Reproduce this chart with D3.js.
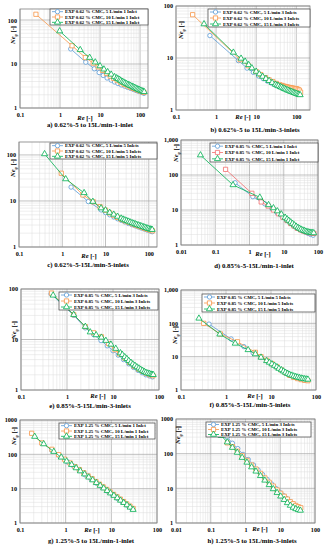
<!DOCTYPE html>
<html>
<head>
<meta charset="utf-8">
<script src="https://cdn.jsdelivr.net/npm/d3@7"></script>
<style>
  body { margin: 0; background: #fff; }
  svg { display: block; }
  text { font-family: "Liberation Serif", "DejaVu Serif", serif; font-weight: bold; fill: #000; }
</style>
</head>
<body>
<svg id="fig" width="325" height="550"></svg>
<script>
// ---- data: [Re, Ne_g] ----
// a) 0.62 % CMC, 1 inlet
const a5  = [[1.85,22],[4.4,11],[7.2,7.8],[9.5,6.4],[12,5.5],[15,4.8],[19,4.3],[23,3.9],[28,3.6],[34,3.35],[41,3.15],[49,2.95],[58,2.8],[68,2.65],[80,2.5],[93,2.38],[108,2.27],[125,2.15]];
const a10 = [[0.25,135],[2,26],[4.3,14],[6.8,10.5],[9,8.6],[11.5,7.2],[14.5,6.1],[18,5.3],[22,4.7],[27,4.2],[33,3.8],[40,3.45],[48,3.2],[57,2.98],[67,2.8],[79,2.63],[92,2.5],[107,2.38],[125,2.27]];
const a15 = [[0.98,56],[3.2,21],[5.5,14],[7.6,11],[10,9],[12.5,7.6],[15.5,6.6],[19,5.8],[23,5.1],[26,4.8],[28,4.6],[31,4.4],[33,4.2],[36,4.0],[39,3.85],[42,3.7],[46,3.55],[50,3.42],[54,3.3],[58,3.2],[63,3.1],[68,3.0],[73,2.9],[78,2.82],[84,2.73],[90,2.65],[97,2.58],[104,2.51],[111,2.45],[119,2.39],[127,2.33]];
// b) 0.62 % CMC, 3 inlets
const b5  = [[0.7,27],[3.6,8.9],[5.9,6.4],[8.5,5.3],[11.5,4.5],[15,4.0],[19,3.6],[24,3.3],[30,3.05],[37,2.85],[45,2.7],[54,2.6],[64,2.55],[75,2.5],[88,2.45],[102,2.4],[118,2.3]];
const b10 = [[0.26,68],[4,9.3],[6.4,7.1],[10,5.5],[13,4.8],[17,4.2],[21,3.8],[26,3.5],[32,3.25],[39,3.05],[43,2.97],[47,2.9],[51,2.85],[56,2.8],[61,2.76],[66,2.72],[71,2.69],[77,2.65],[83,2.62],[90,2.6],[97,2.57],[104,2.55],[112,2.48],[120,2.4],[128,2.2]];
const b15 = [[0.5,45],[2.7,12.8],[4.2,9.8],[5.3,8.6],[6.5,7.4],[7.8,6.4],[10,5.5],[12,4.9],[14.5,4.4],[17.5,4.0],[21,3.65],[25,3.35],[30,3.1],[33,3.0],[36,2.9],[40,2.8],[43,2.72],[47,2.64],[51,2.56],[55,2.49],[60,2.42],[65,2.36],[70,2.3],[76,2.25],[82,2.2],[88,2.15],[95,2.1],[102,2.06],[110,2.02],[117,1.98],[125,1.95]];
// c) 0.62 % CMC, 5 inlets
const c5  = [[1.6,20],[4.0,9.7],[7.9,6.4],[10,5.6],[12.5,5.0],[15.5,4.5],[19,4.1],[23,3.8],[28,3.5],[34,3.25],[41,3.05],[49,2.88],[58,2.72],[68,2.58],[80,2.45],[93,2.33],[108,2.22],[120,2.15]];
const c10 = [[0.95,40],[3.0,13.5],[5.2,9.6],[7.5,7.5],[10,6.3],[12.5,5.5],[15.5,4.9],[19,4.4],[23,4.0],[28,3.7],[34,3.45],[41,3.2],[49,3.0],[58,2.85],[68,2.7],[80,2.55],[93,2.42],[108,2.32],[122,2.25]];
const c15 = [[0.39,105],[1.2,30],[3.2,15],[5.1,9.7],[7.9,7],[10,6.3],[12.5,5.6],[15.5,5.1],[19,4.6],[23,4.2],[25.5,4.0],[28,3.85],[31,3.72],[34,3.6],[37,3.47],[41,3.35],[45,3.25],[49,3.15],[53,3.06],[58,2.98],[63,2.9],[68,2.82],[74,2.75],[80,2.68],[86,2.61],[93,2.55],[100,2.49],[108,2.44],[114,2.41],[120,2.38]];
// d) 0.85 % CMC, 1 inlet
const d5  = [[0.38,60],[1.25,24],[2.8,15],[4.5,11],[6.5,8.2],[9,6.5],[12,5.2],[16,4.2],[21,3.5],[27,3.0],[34,2.6],[42,2.35],[51,2.15],[61,2.0],[72,1.9]];
const d10 = [[0.2,145],[1.17,30],[2.2,17],[3.5,13],[5,10],[7,7.8],[9.5,6.2],[12.5,5.0],[16,4.1],[20,3.5],[25,3.0],[31,2.7],[38,2.5],[46,2.35],[55,2.25],[65,2.2],[76,2.15]];
const d15 = [[0.037,370],[0.33,52],[2.0,23],[3.6,14],[5,11.4],[6.5,9.3],[8.5,7.6],[11,6.1],[12.5,5.5],[14,5.0],[16,4.5],[18,4.1],[20.5,3.7],[23,3.4],[26,3.15],[29,2.95],[32,2.8],[36,2.65],[40,2.55],[44,2.45],[48,2.38],[53,2.32],[58,2.28],[63,2.25],[69,2.22],[75,2.2]];
// e) 0.85 % CMC, 3 inlets
const e5  = [[0.45,80],[1.4,30],[2.5,17],[3.8,12.5],[5.5,9.5],[7.5,7.5],[10,6.0],[13,4.9],[17,4.0],[22,3.3],[28,2.8],[35,2.45],[43,2.2],[52,2.0],[62,1.9],[72,1.82]];
const e10 = [[0.46,83],[1.4,31],[2.5,18],[3.8,13.6],[5.6,11.3],[8,8.3],[11,6.3],[14,5.2],[18,4.3],[23,3.5],[29,2.95],[36,2.6],[44,2.35],[53,2.15],[63,2.0],[74,1.92]];
const e15 = [[0.5,75],[1.4,31],[2.5,18],[3.2,14],[4.3,12.3],[5.6,11],[7,9.5],[9,8.0],[11.5,6.6],[14.5,5.4],[16,5.0],[18,4.5],[20,4.15],[22,3.8],[24.5,3.5],[27,3.25],[30,3.05],[33,2.85],[36.5,2.7],[40,2.55],[44,2.42],[48,2.3],[52,2.22],[57,2.15],[62,2.1],[67,2.05],[71,2.02],[75,2.0]];
// f) 0.85 % CMC, 5 inlets
const f5  = [[0.42,95],[1.3,34],[2.5,20],[4,13],[6,9.5],[8,7.5],[10.5,6.0],[13.5,4.8],[17,3.9],[21,3.2],[26,2.75],[32,2.45],[39,2.25],[47,2.1],[56,2.0],[66,1.95]];
const f10 = [[0.32,100],[0.75,48],[1.8,28],[4.5,13.5],[6,10],[8,7.8],[10.5,6.2],[13.5,5.0],[17,4.0],[21,3.3],[26,2.75],[32,2.4],[39,2.2],[47,2.05],[56,1.95],[66,1.9]];
const f15 = [[0.25,141],[0.73,47],[1.6,25],[3.1,16],[4.5,12],[6,9.5],[8,7.5],[9.2,6.7],[10.5,6.0],[12,5.4],[13.5,4.9],[15,4.4],[17,4.0],[19,3.65],[21,3.35],[23.5,3.1],[26,2.9],[29,2.75],[32,2.6],[35.5,2.5],[39,2.4],[43,2.32],[47,2.25],[51,2.2],[56,2.15],[61,2.11],[66,2.08]];
// g) 1.25 % CMC, 1 inlet
const g5  = [[0.5,130],[0.75,88],[1.1,60],[1.5,45],[2,34],[2.7,25],[3.6,19],[4.8,14.3],[6.3,11],[8.2,8.5],[10.6,6.6],[13.6,5.2],[17.4,4.1],[22,3.3],[27.5,2.7]];
const g10 = [[0.18,410],[0.3,215],[0.5,140],[0.7,98],[0.95,72],[1.25,56],[1.6,44],[2.0,36],[2.5,29],[3.1,23.5],[3.8,19.5],[4.6,16],[5.5,13.5],[6.6,11.3],[7.9,9.5],[9.4,8.0],[11.2,6.8],[13.3,5.8],[15.7,4.95],[18.5,4.2],[21.7,3.6],[25.5,3.1],[30,2.65]];
const g15 = [[0.21,330],[0.33,200],[0.55,120],[0.8,82],[1.05,63],[1.35,50],[1.7,40],[2.1,32.5],[2.6,26.5],[3.2,21.5],[3.9,17.8],[4.7,14.8],[5.7,12.3],[6.8,10.3],[8.1,8.7],[9.6,7.4],[11.4,6.3],[13.5,5.35],[15.9,4.55],[18.7,3.9],[22,3.35],[25.8,2.85],[30,2.45]];
// h) 1.25 % CMC, 3 inlets
const h5  = [[0.2,440],[0.3,300],[0.42,200],[0.6,140],[0.85,95],[1.2,68],[1.7,47],[2.3,34],[3.1,25],[4.2,18],[5.6,13.4],[7.4,10],[9.5,7.8],[12,6.3],[15,5.1],[18.5,4.2],[22.5,3.6],[27,3.15],[32,2.85],[38,2.7]];
const h10 = [[0.3,205],[0.42,160],[0.58,118],[0.8,88],[1.1,64],[1.5,47],[2.0,36],[2.7,27],[3.6,20],[4.8,15],[6.3,11.6],[8.1,9.0],[10.3,7.2],[13,5.9],[16,4.9],[19.5,4.1],[23.5,3.6],[28,3.2],[33,2.95],[39,2.75]];
const h15 = [[0.2,330],[0.3,215],[0.42,150],[0.58,108],[0.8,77],[1.1,56],[1.5,41],[2.0,31],[2.7,23],[3.6,17],[4.8,12.6],[6.3,9.6],[8.1,7.5],[10.3,5.9],[13,4.7],[16,3.8],[19.5,3.2],[23.5,2.8],[28,2.55],[33,2.4],[38,2.3]];

const captions = [
  "a)  0.62%-5 to 15L/min-1-inlet", "b)  0.62%-5 to 15L/min-3-inlets",
  "c)  0.62%-5-15L/min-5-inlets", "d)  0.85%-5-15L/min-1-inlet",
  "e)  0.85%-5-15L/min-3-inlets", "f)  0.85%-5-15L/min-5-inlets",
  "g)  1.25%-5 to 15L/min-1-inlet", "h)  1.25%-5 to 15L/min-3-inlets"
];
const cmc = ["0.62", "0.62", "0.62", "0.85", "0.85", "0.85", "1.25", "1.25"];
const inletText = ["1 Inlet", "3 Inlets", "5 Inlets", "1 Inlet", "3 Inlets", "5 Inlets", "1 Inlet", "3 Inlets"];
const flows = ["5", "10", "15"];

const xTicks1 = [0.1, 1, 10, 100];
const xTicks2 = [0.01, 0.1, 1, 10, 100];
const yTicks2 = [1, 10, 100];
const yTicks3 = [1, 10, 100, 1000];

const BLUE = "#5B9BD5", ORANGE = "#F79646", GREEN = "#00B050", RED = "#F26D6D";

// layout per panel (pixels)
const panels = [
  {l:20,  t:9,   r:148, b:108, xd:[0.1,158],  yd:[1,178],  xt:xTicks1, yt:yTicks2, data:[a5,a10,a15], cap:[90,127],  ylab:[15,35],   rel:[85,120],  leg:[50,9,98,16]},
  {l:176, t:6,   r:310, b:110, xd:[0.1,220],  yd:[1,100],  xt:xTicks1, yt:yTicks2, data:[b5,b10,b15], cap:[255,132], ylab:[183,30],  rel:[243,119], leg:[208,9,102,18]},
  {l:19,  t:142, r:157, b:247, xd:[0.1,155],  yd:[1,191],  xt:xTicks1, yt:yTicks2, data:[c5,c10,c15], cap:[88,267],  ylab:[15,168],  rel:[89,258],  leg:[50,143,107,16]},
  {l:181, t:140, r:318, b:245, xd:[0.01,100], yd:[1,1000], xt:xTicks2, yt:yTicks3, data:[d5,d10,d15], cap:[254,268], ylab:[178,153], rel:[263,256], leg:[210,143,108,19], comma:true, red:true},
  {l:21,  t:289, r:159, b:390, xd:[0.1,100],  yd:[1,100],  xt:xTicks1, yt:yTicks2, data:[e5,e10,e15], cap:[90,408],  ylab:[16,330],  rel:[98,398],  leg:[59,292,99,18]},
  {l:181, t:290, r:316, b:390, xd:[0.1,100],  yd:[1,1000], xt:xTicks1, yt:yTicks3, data:[f5,f10,f15], cap:[250,407], ylab:[177,335], rel:[255,398], leg:[202,294,113,18], comma:true},
  {l:20,  t:420, r:157, b:523, xd:[0.1,100],  yd:[1,1000], xt:xTicks1, yt:yTicks3, data:[g5,g10,g15], cap:[91,543],  ylab:[16,436],  rel:[92,532],  leg:[59,423,96,16]},
  {l:176, t:419, r:315, b:523, xd:[0.01,100], yd:[1,1000], xt:xTicks2, yt:yTicks3, data:[h5,h10,h15], cap:[252,543], ylab:[180,435], rel:[260,531], leg:[206,422,105,15]}
];

const svg = d3.select("#fig");
const symbols = [d3.symbolCircle, d3.symbolSquare, d3.symbolTriangle];
const symSize = [15, 18, 16];

function minorTicks(dom) {
  const out = [];
  for (let e = -3; e <= 3; e++) {
    for (let k = 1; k <= 9; k++) {
      const v = k * Math.pow(10, e);
      if (v >= dom[0] * 0.999 && v <= dom[1] * 1.001) out.push(+v.toPrecision(3));
    }
  }
  return out;
}

panels.forEach((p, i) => {
  const x = d3.scaleLog().domain(p.xd).range([p.l, p.r]);
  const y = d3.scaleLog().domain(p.yd).range([p.b, p.t]);
  const cols = [BLUE, p.red ? RED : ORANGE, GREEN];
  const g = svg.append("g");

  const clipId = "clip" + i;
  svg.append("clipPath").attr("id", clipId)
    .append("rect").attr("x", p.l).attr("y", p.t).attr("width", p.r - p.l).attr("height", p.b - p.t);

  // grid
  const mx = minorTicks(p.xd), my = minorTicks(p.yd);
  g.append("g").selectAll("line").data(mx).join("line")
    .attr("x1", d => x(d)).attr("x2", d => x(d)).attr("y1", p.t).attr("y2", p.b)
    .attr("stroke", d => p.xt.includes(d) ? "#a6a6a6" : "#dcdcdc")
    .attr("stroke-width", d => p.xt.includes(d) ? 0.7 : 0.5);
  g.append("g").selectAll("line").data(my).join("line")
    .attr("y1", d => y(d)).attr("y2", d => y(d)).attr("x1", p.l).attr("x2", p.r)
    .attr("stroke", d => p.yt.includes(d) ? "#a6a6a6" : "#dcdcdc")
    .attr("stroke-width", d => p.yt.includes(d) ? 0.7 : 0.5);

  g.append("rect").attr("x", p.l).attr("y", p.t).attr("width", p.r - p.l).attr("height", p.b - p.t)
    .attr("fill", "none").attr("stroke", "#7f7f7f").attr("stroke-width", 0.8);

  // axes
  const fmt = p.comma ? d3.format(",") : (d => String(d));
  const ax = g.append("g").attr("transform", `translate(0,${p.b})`)
    .call(d3.axisBottom(x).tickValues(p.xt).tickFormat(fmt).tickSize(0).tickPadding(5));
  const ay = g.append("g").attr("transform", `translate(${p.l},0)`)
    .call(d3.axisLeft(y).tickValues(p.yt.filter(v => v <= p.yd[1] * 1.01)).tickFormat(fmt).tickSize(0).tickPadding(3));
  [ax, ay].forEach(a => {
    a.select(".domain").remove();
    a.selectAll("text").attr("font-size", 6.2).attr("font-family", "Liberation Serif").attr("font-weight", "bold").attr("fill", "#000");
  });

  // axis titles
  const rt = g.append("text").attr("x", p.rel[0]).attr("y", p.rel[1]).attr("font-size", 6.5).attr("text-anchor", "middle");
  rt.append("tspan").attr("font-style", "italic").text("Re");
  rt.append("tspan").text(" [-]");
  const yt = g.append("text").attr("transform", `translate(${p.ylab[0]},${p.ylab[1]}) rotate(-90)`)
    .attr("font-size", 6.5).attr("text-anchor", "middle");
  yt.append("tspan").attr("font-style", "italic").text("Ne");
  yt.append("tspan").attr("font-style", "italic").attr("font-size", 4.5).attr("dy", 1.5).text("g");
  yt.append("tspan").attr("dy", -1.5).text(" [-]");

  // series
  const line = d3.line().x(d => x(d[0])).y(d => y(d[1]));
  const sg = g.append("g").attr("clip-path", `url(#${clipId})`);
  p.data.forEach((s, k) => {
    sg.append("path").datum(s).attr("d", line).attr("fill", "none").attr("stroke", cols[k]).attr("stroke-width", 0.8);
    sg.append("g").selectAll("path").data(s).join("path")
      .attr("transform", d => `translate(${x(d[0])},${y(d[1])})`)
      .attr("d", d3.symbol(symbols[k], symSize[k]))
      .attr("fill", "#fff").attr("stroke", cols[k]).attr("stroke-width", 0.8);
  });

  // legend
  const [lx, ly, lw, lh] = p.leg;
  const lg = g.append("g");
  lg.append("rect").attr("x", lx).attr("y", ly).attr("width", lw).attr("height", lh)
    .attr("fill", "#fff").attr("stroke", "#404040").attr("stroke-width", 0.7);
  const rowH = lh / 3;
  flows.forEach((f, k) => {
    const cy = ly + rowH * (k + 0.5);
    lg.append("line").attr("x1", lx + 2).attr("x2", lx + 13).attr("y1", cy).attr("y2", cy)
      .attr("stroke", cols[k]).attr("stroke-width", 0.8);
    lg.append("path").attr("transform", `translate(${lx + 7.5},${cy})`)
      .attr("d", d3.symbol(symbols[k], symSize[k]))
      .attr("fill", "#fff").attr("stroke", cols[k]).attr("stroke-width", 0.8);
    lg.append("text").attr("x", lx + 15).attr("y", cy + 1.7).attr("font-size", 4.9)
      .text(`EXP ${cmc[i]} % CMC, ${f} L/min ${inletText[i]}`);
  });

  // caption
  g.append("text").attr("x", p.cap[0]).attr("y", p.cap[1]).attr("text-anchor", "middle")
    .attr("font-size", 6.8).text(captions[i]);
});
</script>
</body>
</html>
